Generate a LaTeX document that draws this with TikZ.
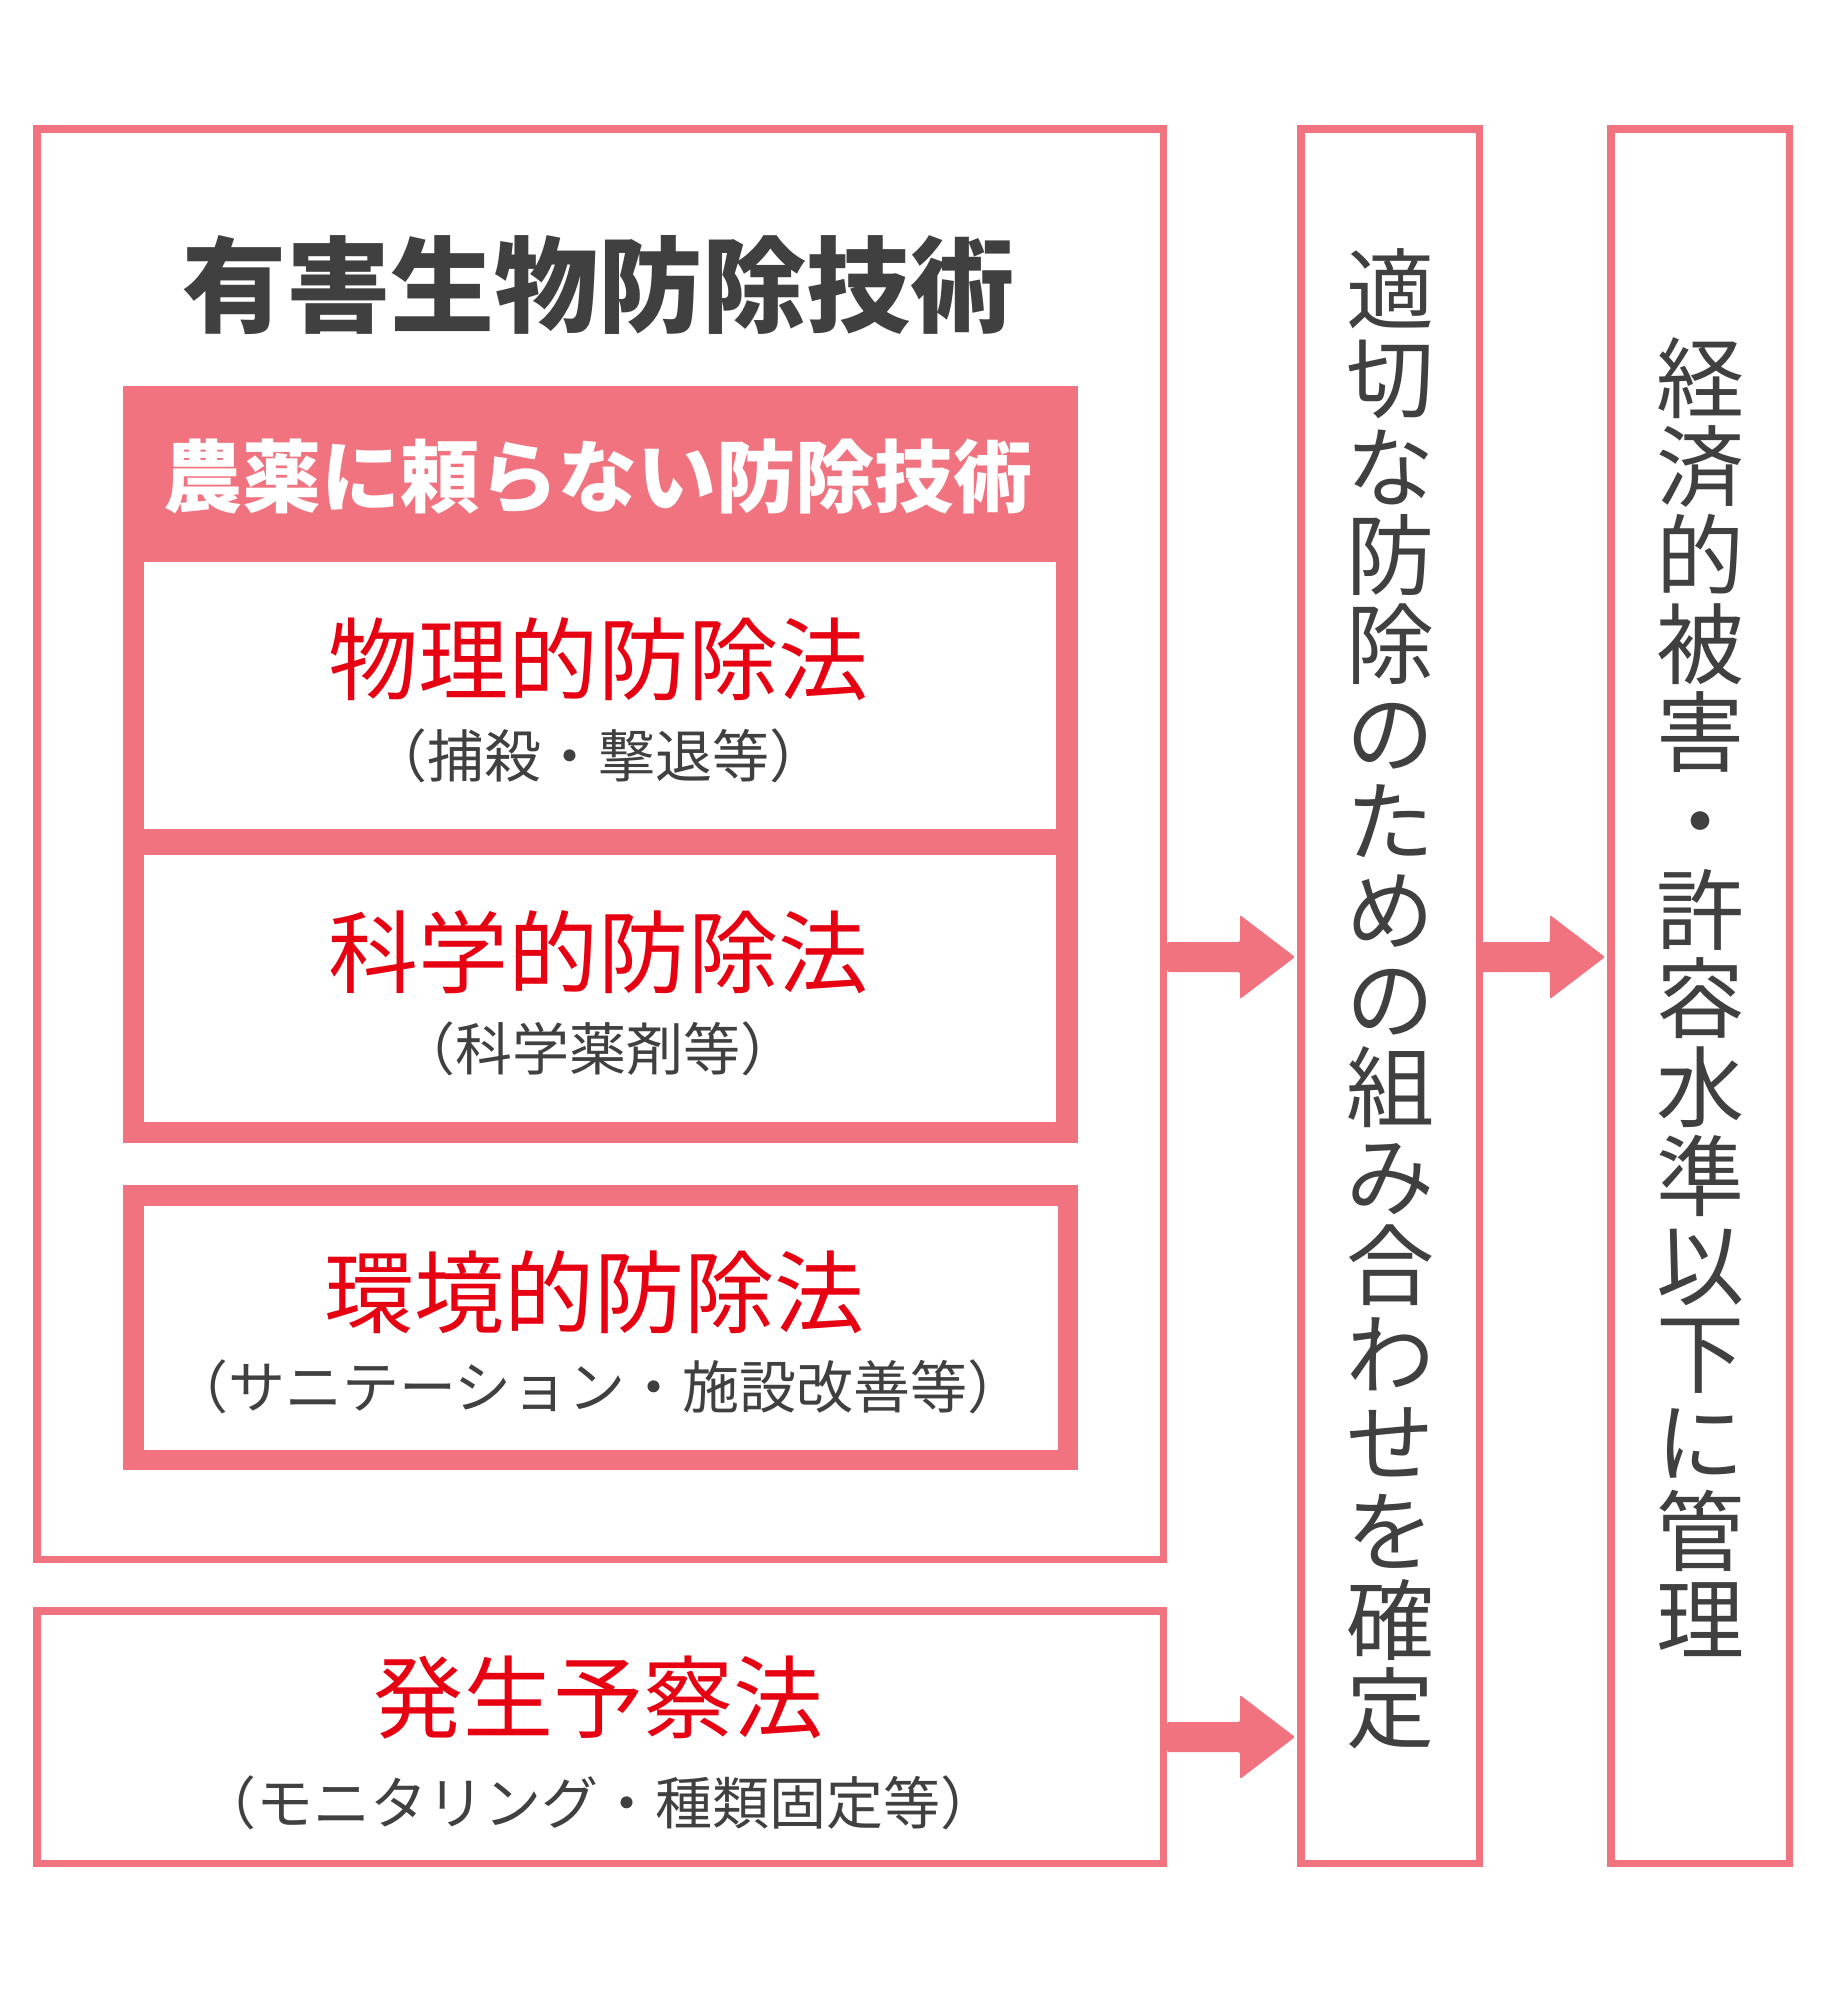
\documentclass[tikz,border=0pt]{standalone}
\usepackage{fontspec}
\newfontfamily\jp{Noto Sans CJK JP}
\usetikzlibrary{calc}
\definecolor{pk}{HTML}{F0737F}
\definecolor{rd}{HTML}{E60012}
\definecolor{gy}{HTML}{404040}
\newcommand\blockarr[2]{%
  \fill[pk, rounded corners=2pt] ($(#1)+(0,-15)$) -- ($(#2)+(-57,-15)$) -- ($(#2)+(-57,-42)$)
    -- ($(#2)+(-2,0)$) -- ($(#2)+(-57,42)$) -- ($(#2)+(-57,15)$) -- ($(#1)+(0,15)$) -- cycle;}
\begin{document}
\begin{tikzpicture}[x=1pt,y=-1pt,
  box/.style={draw=pk, line width=7.5pt, fill=white, inner sep=0pt},
  panel/.style={fill=pk, inner sep=0pt},
  whitebox/.style={fill=white, inner sep=0pt},
  ttl/.style={anchor=base, inner sep=0pt, text=gy, font=\jp\bfseries\fontsize{104}{110}\selectfont},
  hdr/.style={anchor=base, inner sep=0pt, text=white, font=\jp\bfseries\fontsize{79}{85}\selectfont},
  meth/.style={anchor=base, inner sep=0pt, text=rd, font=\jp\fontsize{90}{96}\selectfont},
  sub/.style={anchor=base, inner sep=0pt, text=gy, font=\jp\fontsize{57}{62}\selectfont},
  vstack/.style={align=center, inner sep=0pt, text=gy, font=\jp\fontsize{88}{88.7}\selectfont}]
\fill[white] (0,0) rectangle (1826,2000);
\path[use as bounding box] (0,0) rectangle (1826,2000);
% outer boxes
\node[box, minimum width=1126.5pt, minimum height=1430.5pt] (big) at (600,844) {};
\node[box, minimum width=1126.5pt, minimum height=252.5pt] (pred) at (600,1737) {};
\node[box, minimum width=178.5pt, minimum height=1734.5pt] (mid) at (1390,996) {};
\node[box, minimum width=178.5pt, minimum height=1734.5pt] (goal) at (1700,996) {};
% non-chemical panel
\node[panel, minimum width=955pt, minimum height=757pt] (nonchem) at (600.5,764.5) {};
\node[whitebox, minimum width=912pt, minimum height=267pt] (w1) at (600,695.5) {};
\node[whitebox, minimum width=912pt, minimum height=267pt] (w2) at (600,988.5) {};
\node[draw=pk, line width=20.5pt, fill=white, inner sep=0pt, minimum width=934.5pt, minimum height=264.5pt] (w3) at (600.5,1327.5) {};
% texts
\node[ttl] (title) at (598,324) {有害生物防除技術};
\node[hdr] (hdrtxt) at (598,506) {農薬に頼らない防除技術};
\node[meth] (m1) at (598,693) {物理的防除法};
\node[sub] (s1) at (598,777) {（捕殺・撃退等）};
\node[meth] (m2) at (598,986) {科学的防除法};
\node[sub] (s2) at (598,1070) {（科学薬剤等）};
\node[meth] (m3) at (594,1326) {環境的防除法};
\node[sub] (s3) at (598,1408) {（サニテーション・施設改善等）};
\node[meth] (m4) at (598,1731) {発生予察法};
\node[sub] (s4) at (598,1824) {（モニタリング・種類固定等）};
\node[vstack] (midtxt) at (1390,999) {適\\切\\な\\防\\除\\の\\た\\め\\の\\組\\み\\合\\わ\\せ\\を\\確\\定};
\node[vstack] (goaltxt) at (1700,997) {経\\済\\的\\被\\害\\・\\許\\容\\水\\準\\以\\下\\に\\管\\理};
% arrows
\coordinate (ya) at (0,957);
\coordinate (yb) at (0,1737);
\coordinate (a1s) at (big.east |- ya);
\coordinate (a1t) at (mid.west |- ya);
\coordinate (a2s) at ($(mid.east |- ya)+(-5,0)$);
\coordinate (a2t) at (goal.west |- ya);
\coordinate (a3s) at (pred.east |- yb);
\coordinate (a3t) at (mid.west |- yb);
\blockarr{a1s}{a1t}
\blockarr{a2s}{a2t}
\blockarr{a3s}{a3t}
\end{tikzpicture}
\end{document}
